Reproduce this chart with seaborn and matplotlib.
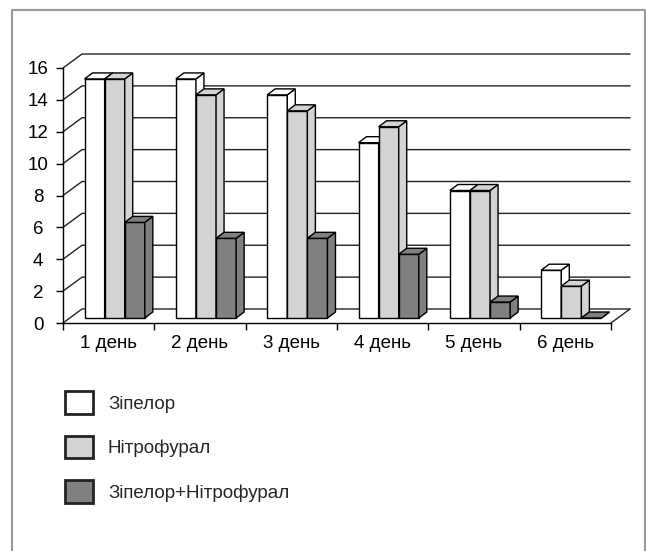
import pandas as pd
import seaborn as sns
import matplotlib.pyplot as plt
from matplotlib.patches import Polygon, Patch
from matplotlib.lines import Line2D

days = ['1 день', '2 день', '3 день', '4 день', '5 день', '6 день']
series = ['Зіпелор', 'Нітрофурал', 'Зіпелор+Нітрофурал']
zipelor = [15, 15, 14, 11, 8, 3]
nitrofural = [15, 14, 13, 12, 8, 2]
combo = [6, 5, 5, 4, 1, 0]
colors = ['#ffffff', '#d3d3d5', '#808080']

rows = []
for name, vals in zip(series, [zipelor, nitrofural, combo]):
    for d, v in zip(days, vals):
        rows.append({'day': d, 'series': name, 'value': v})
df = pd.DataFrame(rows)

sns.set_style('white')
plt.rcParams['font.family'] = ['Liberation Sans', 'DejaVu Sans']
FS = 13.5

W, H = 646, 551
fig = plt.figure(figsize=(W / 100, H / 100), dpi=100)
# front plane of the pseudo-3d chart
ax = fig.add_axes([63 / W, 228 / H, 548 / W, 255 / H])

sns.barplot(data=df, x='day', y='value', hue='series', palette=colors,
            width=0.66, edgecolor='black', linewidth=1, saturation=1,
            errorbar=None, legend=False, ax=ax)

ax.set_xlim(-0.5, 5.5)
ax.set_ylim(0, 16)

# pixel -> data conversion for the depth offsets
px_x = 548 / 6.0
px_y = 255 / 16.0


def off(px, py):
    return px / px_x, py / px_y


# back wall + diagonals
wx, wy = off(19, 14)
for t in range(0, 17, 2):
    ax.plot([-0.5, -0.5 + wx, 5.5 + wx], [t, t + wy, t + wy],
            color='#222222', lw=1, zorder=1, clip_on=False)
ax.plot([5.5, 5.5 + wx], [0, wy], color='#222222', lw=1, zorder=1, clip_on=False)

# give the bars a top and a side face
bars = sorted(list(ax.patches), key=lambda p: p.get_x())
sx, sy = off(6, 5)
dx, dy = off(8, 6)
for i, p in enumerate(bars):
    x0 = p.get_x() + sx
    w = p.get_width()
    h = p.get_height()
    y0 = sy
    p.set_x(x0)
    p.set_y(y0)
    fc = p.get_facecolor()
    z = 3 + i
    p.set_zorder(z)
    top = Polygon([(x0, y0 + h), (x0 + w, y0 + h), (x0 + w + dx, y0 + h + dy), (x0 + dx, y0 + h + dy)],
                  closed=True, facecolor=fc, edgecolor='black', lw=1, zorder=z, clip_on=False)
    side = Polygon([(x0 + w, y0), (x0 + w + dx, y0 + dy), (x0 + w + dx, y0 + h + dy), (x0 + w, y0 + h)],
                   closed=True, facecolor=fc, edgecolor='black', lw=1, zorder=z, clip_on=False)
    ax.add_patch(side)
    ax.add_patch(top)

ax.set_yticks(range(0, 17, 2))
ax.tick_params(axis='y', length=5, width=1, direction='out', pad=13,
               labelsize=FS, colors='black', left=True)
for lab in ax.get_yticklabels():
    lab.set_horizontalalignment('center')
ax.set_xticks(range(6))
ax.set_xticklabels(days)
ax.set_xticks([i - 0.5 for i in range(7)], minor=True)
ax.tick_params(axis='x', which='major', length=0, pad=9, labelsize=FS, colors='black')
ax.tick_params(axis='x', which='minor', length=5, width=1, direction='out', bottom=True, colors='black')
ax.set_xlabel('')
ax.set_ylabel('')
sns.despine(ax=ax)
for s in ['left', 'bottom']:
    ax.spines[s].set_color('black')
    ax.spines[s].set_linewidth(1)
ax.patch.set_visible(False)

handles = [Patch(facecolor=c, edgecolor='#222222', linewidth=2) for c in colors]
fig.legend(handles, series, loc='upper left', bbox_to_anchor=(65 / W, 1 - 391 / H),
           frameon=False, fontsize=FS, handlelength=1.49, handleheight=1.49,
           handletextpad=0.8, labelspacing=1.17, borderpad=0, borderaxespad=0)

# grey outer frame (bottom edge is cut off in the original)
fig.add_artist(Line2D([12 / W, 12 / W, 645 / W, 645 / W], [0, 1 - 10 / H, 1 - 10 / H, 0],
                      color='#999999', lw=1.5))

fig.savefig('out.png', dpi=100)
